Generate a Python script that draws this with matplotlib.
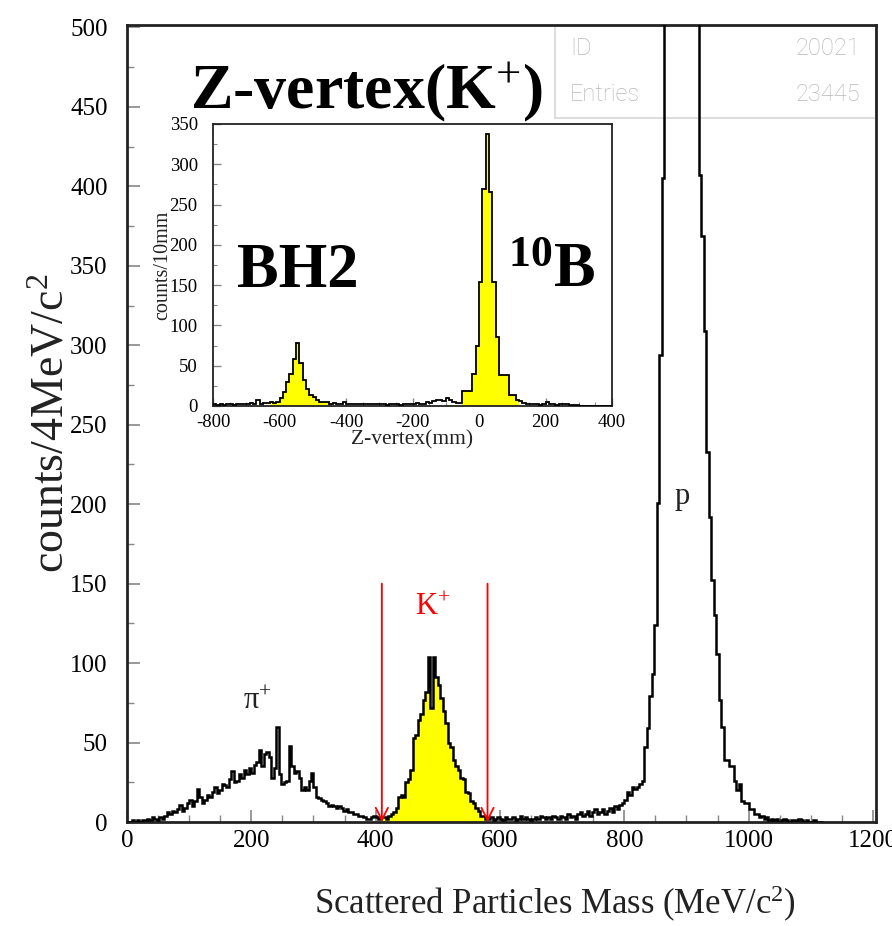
import numpy as np
import matplotlib
matplotlib.use("Agg")
import matplotlib.pyplot as plt
from matplotlib.ticker import MultipleLocator

plt.rcParams['mathtext.fontset'] = 'custom'
plt.rcParams['mathtext.rm'] = 'Liberation Serif'
plt.rcParams['mathtext.it'] = 'Liberation Serif:italic'
plt.rcParams['mathtext.bf'] = 'Liberation Serif:bold'
plt.rcParams['axes.unicode_minus'] = False
SERIF = ['Liberation Serif', 'DejaVu Serif']

# ---------------- main histogram data (4 MeV/c^2 bins from 0) ----------------
bin_width = 4
pi_counts = [0, 0, 1, 0, 1, 0, 1,
             1, 2, 1, 3, 2, 1, 3, 2,
             4, 6, 5, 7, 6, 8, 11, 7,
             9, 12, 14, 10, 13, 21, 16, 12,
             14, 17, 16, 19, 22, 18, 20, 24,
             23, 22, 27, 32, 25, 26, 30, 28,
             33, 30, 34, 31, 36, 38, 45, 35,
             43, 44, 41, 28, 34, 60, 30, 24,
             25, 26, 48, 35, 31, 32, 28, 20,
             22, 20, 26, 31, 22, 16, 15, 14,
             13, 12, 10, 11, 10, 9, 10, 9,
             7, 8, 6, 6, 5, 5, 4, 4,
             3, 2, 2, 3, 4, 3, 2, 3]          # 0 - 412
k_counts = [3, 2, 4, 5, 6, 9, 16, 17, 16, 25, 27, 33, 53, 55, 64, 68, 77, 82,
            104, 72, 104, 91, 86, 78, 70, 62, 50, 47, 39, 35, 33, 28, 27, 19,
            18, 13, 12, 9, 7, 4, 4, 2]      # 412 - 580
gap_counts = [2, 3, 1, 2, 3, 2, 1, 3, 2, 2, 3, 1, 2, 4, 2, 3, 2, 1, 2, 3,
              2, 4, 3, 2, 3, 2, 4, 3, 2, 4, 3, 2, 5, 3, 4, 2, 5, 6, 4, 5,
              7, 4, 6, 8, 5]                # 580 - 760
p_counts = [6, 8, 5, 7, 9, 6, 10, 8, 11, 12, 14, 19, 17, 22, 21, 22, 24,
            26, 47, 59, 79, 93, 124, 201, 294, 405,
            560, 800, 1100, 1400, 1700, 1900, 2000, 1950, 1800, 1500, 1200, 900, 650, 520,
            407, 369, 309, 233, 192, 152, 130, 106, 77, 60, 39, 39, 35, 35, 26, 20,
            24, 13, 12, 12, 8, 8, 5, 5, 3, 4, 2, 3, 1, 2,
            1, 2, 0, 1, 2, 1, 0, 1, 1, 0, 2, 1, 0, 1, 0, 0, 1, 0, 0, 0]  # 760 - 1120
counts = np.array(pi_counts + k_counts + gap_counts + p_counts, dtype=float)
edges = np.arange(len(counts) + 1) * bin_width
k_cut = (410, 580)
entries_id = "20021"
entries_n = "23445"

# ---------------- inset Z-vertex data (10 mm bins from -800) ----------------
z_bin = 10
z_start = -800
z_counts = [2, 1, 2, 1, 2, 2, 1, 3, 2, 3,
            2, 4, 3, 7, 3, 4, 4, 5, 4, 5,
            10, 17, 30, 40, 58, 78, 53, 32, 21, 14,
            11, 8, 5, 5, 5, 3, 4, 2, 3, 5,
            2, 3, 2, 3, 2, 3, 2, 2, 3, 2,
            2, 2, 1, 2, 2, 2, 1, 2, 3, 2,
            2, 4, 3, 2, 5, 4, 6, 8, 7, 6,
            10, 8, 5, 4, 4, 19, 19, 19, 40, 74,
            154, 269, 338, 265, 154, 86, 38, 38, 38, 14,
            14, 8, 6, 4, 3, 2, 2, 2, 1, 3,
            5, 2, 2, 1, 3, 2, 2, 1, 1, 1,
            0, 0, 0, 0, 0, 0, 0, 0, 0, 0]
z_counts = np.array(z_counts, dtype=float)
z_edges = z_start + np.arange(len(z_counts) + 1) * z_bin
z_fill_ranges = [(-630, -450), (-50, 120)]

# ---------------- figure ----------------
fig = plt.figure(figsize=(8.92, 9.26), dpi=100)
ax = fig.add_axes([0.1424, 0.1123, 0.8397, 0.8607])

# yellow K+ fill
sel = (edges[:-1] >= 412) & (edges[:-1] < 580)
idx = np.where(sel)[0]
ax.stairs(counts[idx], edges[idx[0]:idx[-1] + 2], fill=True, color='#ffff00', zorder=2)
ax.stairs(counts, edges, color='black', lw=1.8, zorder=3)

ax.set_xlim(0, 1205)
ax.set_ylim(0, 501.5)
ax.xaxis.set_major_locator(MultipleLocator(200))
ax.xaxis.set_minor_locator(MultipleLocator(50))
ax.yaxis.set_major_locator(MultipleLocator(50))
ax.yaxis.set_minor_locator(MultipleLocator(25))
ax.tick_params(which='both', direction='in', color='#888888', top=False, right=False)
ax.tick_params(which='major', length=9, width=1.2, labelsize=18)
ax.tick_params(axis='y', which='major', pad=14)
ax.tick_params(axis='x', which='major', pad=6)
ax.tick_params(which='minor', length=5, width=1.0)
for lab in ax.get_xticklabels() + ax.get_yticklabels():
    lab.set_family(SERIF)
for s in ax.spines.values():
    s.set_linewidth(2.0)
    s.set_color('#222222')
ax.set_xlabel("Scattered Particles Mass (MeV/c$^{2}$)", family=SERIF, fontsize=25, color='#222222')
ax.xaxis.set_label_coords(0.571, -0.078)
ax.set_ylabel("counts/4MeV/c$^{2}$", family=SERIF, fontsize=33, color='#222222')
ax.yaxis.set_label_coords(-0.072, 0.5)

# K+ cut arrows
for xc in k_cut:
    ax.annotate("", xy=(xc, 0), xytext=(xc, 150),
                arrowprops=dict(arrowstyle='->', color='red', lw=1.3,
                                mutation_scale=22, shrinkA=0, shrinkB=0), zorder=4)
ax.text(491, 135, "K$^{+}$", color='red', family=SERIF, fontsize=22, ha='center', va='center')
ax.text(210, 76, "π$^{+}$", color='#222222', family=SERIF, fontsize=22, ha='center', va='center')
ax.text(893, 205, "p", color='#222222', family=SERIF, fontsize=22, ha='center', va='center')

# stats box
ax.add_patch(plt.Rectangle((688, 443), 517, 58.5, transform=ax.transData,
                           facecolor='white', edgecolor='#dddddd', lw=1.5, zorder=1.5))
for xt, yt, s, ha in [(713, 487, "ID", 'left'), (713, 458, "Entries", 'left'),
                      (1180, 487, entries_id, 'right'), (1180, 458, entries_n, 'right')]:
    ax.text(xt, yt, s, color='#b8b8b8', family=['Roboto', 'DejaVu Sans'], fontsize=17,
            fontweight='light', ha=ha, va='center', zorder=1.6)

# ---------------- inset ----------------
ins = fig.add_axes([0.2388, 0.5616, 0.4473, 0.3045])
for lo, hi in z_fill_ranges:
    m = np.where((z_edges[:-1] >= lo) & (z_edges[:-1] < hi))[0]
    ins.stairs(z_counts[m], z_edges[m[0]:m[-1] + 2], fill=True, color='#ffff00', zorder=2)
ins.stairs(z_counts, z_edges, color='black', lw=1.3, zorder=3)
ins.set_xlim(-800, 400)
ins.set_ylim(0, 350)
ins.xaxis.set_major_locator(MultipleLocator(200))
ins.xaxis.set_minor_locator(MultipleLocator(50))
ins.yaxis.set_major_locator(MultipleLocator(50))
ins.yaxis.set_minor_locator(MultipleLocator(25))
ins.tick_params(which='both', direction='in', color='#888888', top=False, right=False)
ins.tick_params(which='major', length=6, width=1.0, labelsize=13.5)
ins.tick_params(axis='y', which='major', pad=11)
ins.tick_params(axis='x', which='major', pad=6)
ins.tick_params(which='minor', length=3, width=0.8)
for lab in ins.get_xticklabels() + ins.get_yticklabels():
    lab.set_family(SERIF)
for s in ins.spines.values():
    s.set_linewidth(1.3)
    s.set_color('#222222')
ins.set_xlabel("Z-vertex(mm)", family=SERIF, fontsize=15.5, labelpad=-1, color='#222222')
ins.set_ylabel("counts/10mm", family=SERIF, fontsize=14.5, labelpad=-2, color='#222222')

# big annotations
fig.text(190 / 892, 1 - 108 / 926, "Z-vertex(K$^{+}$)", family=SERIF, fontweight='bold',
         fontsize=46, ha='left', va='baseline')
fig.text(237 / 892, 1 - 287 / 926, "BH2", family=SERIF, fontweight='bold',
         fontsize=45, ha='left', va='baseline')
fig.text(508 / 892, 1 - 287 / 926, r"$^{\mathbf{10}}$B", family=SERIF, fontweight='bold',
         fontsize=45, ha='left', va='baseline')

fig.savefig("out.png", dpi=100)
